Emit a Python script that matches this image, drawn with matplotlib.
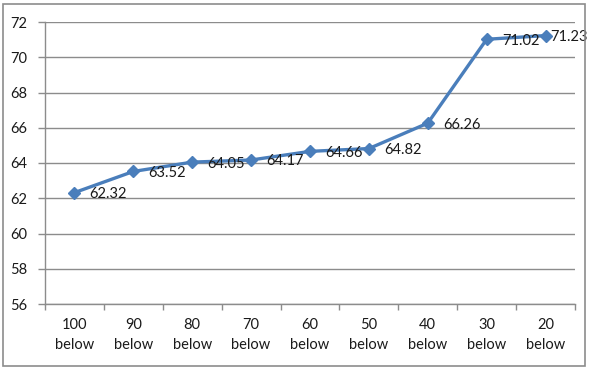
import matplotlib
matplotlib.use("Agg")
import matplotlib.pyplot as plt
from matplotlib.patches import Rectangle

plt.rcParams['font.family'] = ['Lato', 'DejaVu Sans']

categories = ["100\nbelow", "90\nbelow", "80\nbelow", "70\nbelow", "60\nbelow",
              "50\nbelow", "40\nbelow", "30\nbelow", "20\nbelow"]
values = [62.32, 63.52, 64.05, 64.17, 64.66, 64.82, 66.26, 71.02, 71.23]
y_ticks = [56, 58, 60, 62, 64, 66, 68, 70, 72]

line_color = "#4A7EBB"
grid_color = "#8C8C8C"
text_color = "#1A1A1A"

fig = plt.figure(figsize=(5.89, 3.68), dpi=100)
ax = fig.add_axes([45 / 589, 1 - 304 / 368, 530 / 589, 282 / 368])

x = list(range(len(categories)))
ax.plot(x, values, color=line_color, linewidth=2.4, marker="D",
        markersize=6.5, markerfacecolor=line_color, markeredgecolor=line_color,
        zorder=3, clip_on=False)

for xi, v in zip(x, values):
    # the last label is pulled in toward its point so it stays inside the chart
    dx = 3.5 if xi == x[-1] else 11
    ax.annotate(f"{v:.2f}", (xi, v), xytext=(dx, -1), textcoords="offset points",
                ha="left", va="center", fontsize=10.5, color=text_color,
                zorder=4, annotation_clip=False)

ax.set_xlim(-0.5, len(categories) - 0.5)
ax.set_ylim(56, 72)
ax.set_yticks(y_ticks)
ax.set_yticklabels([str(t) for t in y_ticks])
ax.set_xticks(x)
ax.set_xticklabels(categories, linespacing=1.6)

# category boundary tick marks on the x axis
ax.set_xticks([i - 0.5 for i in range(len(categories) + 1)], minor=True)
ax.tick_params(axis="x", which="major", length=0, pad=10, labelsize=10.5,
               labelcolor=text_color)
ax.tick_params(axis="x", which="minor", length=4, width=1, color=grid_color)
ax.tick_params(axis="y", which="major", length=5, width=1, color=grid_color,
               pad=8, labelsize=10.5, labelcolor=text_color)

ax.grid(axis="y", color=grid_color, linewidth=1)
ax.set_axisbelow(True)
for side in ("top", "right"):
    ax.spines[side].set_visible(False)
for side in ("left", "bottom"):
    ax.spines[side].set_color(grid_color)
    ax.spines[side].set_linewidth(1)

# outer chart frame
fig.patches.append(Rectangle((3 / 589, 2 / 368), 582 / 589, 362 / 368,
                             transform=fig.transFigure, fill=False,
                             edgecolor="#8C8C8C", linewidth=1.2))

fig.savefig("out.png", dpi=100)
